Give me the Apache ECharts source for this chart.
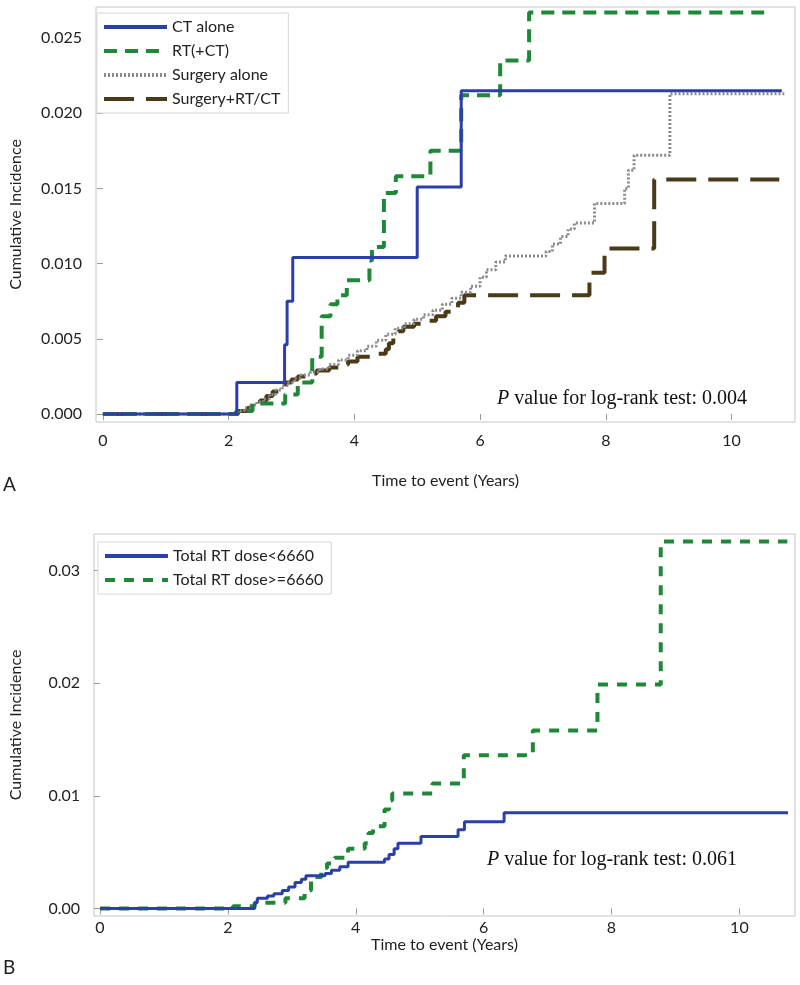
<!DOCTYPE html>
<html>
<head>
<meta charset="utf-8">
<script src="https://cdn.jsdelivr.net/npm/echarts@6/dist/echarts.min.js"></script>
<style>html,body{margin:0;padding:0;background:#fff}#c{width:800px;height:985px}</style>
</head>
<body>
<div id="c"></div>
<script>
// ---- Data ----
const xTicks = [0, 2, 4, 6, 8, 10];
const yTicksA = [0, 0.005, 0.010, 0.015, 0.020, 0.025];
const yTicksB = [0, 0.01, 0.02, 0.03];

const namesA = ['CT alone', 'RT(+CT)', 'Surgery alone', 'Surgery+RT/CT'];
const namesB = ['Total RT dose<6660', 'Total RT dose>=6660'];

// Panel A: [time (years), cumulative incidence]
const ctAlone = [[0,0],[2.13,0.0021],[2.89,0.0046],[2.93,0.0075],[3.02,0.0104],[5.0,0.0151],[5.7,0.0215],[10.8,0.0215]];
const rtCt = [[0,0],[2.12,0.0002],[2.38,0.0007],[2.9,0.0013],[3.1,0.0021],[3.33,0.0038],[3.48,0.0065],[3.62,0.0073],[3.73,0.0079],[3.88,0.0089],[4.24,0.0102],[4.28,0.0111],[4.47,0.0147],[4.66,0.0158],[5.21,0.0175],[5.70,0.0212],[6.32,0.0235],[6.78,0.0267],[10.52,0.0267]];
const surgeryAlone = [[0,0],[2.15,0.0002],[2.25,0.0004],[2.35,0.0006],[2.45,0.0008],[2.55,0.0010],[2.65,0.0013],[2.75,0.0016],[2.85,0.0019],[2.95,0.0021],[3.05,0.0024],[3.15,0.0026],[3.3,0.0028],[3.45,0.0030],[3.6,0.0033],[3.75,0.0036],[3.9,0.0039],[4.05,0.0042],[4.2,0.0045],[4.35,0.0049],[4.5,0.0053],[4.65,0.0057],[4.8,0.0060],[4.95,0.0063],[5.1,0.0066],[5.25,0.0069],[5.4,0.0073],[5.55,0.0077],[5.7,0.0081],[5.85,0.0085],[6.0,0.0091],[6.1,0.0096],[6.25,0.0101],[6.4,0.0105],[7.05,0.0108],[7.15,0.0113],[7.28,0.0118],[7.4,0.0123],[7.5,0.0127],[7.82,0.0140],[8.3,0.0150],[8.36,0.0162],[8.45,0.0172],[9.02,0.0213],[10.84,0.0213]];
const surgeryRtCt = [[0,0],[2.15,0.0002],[2.3,0.0004],[2.4,0.0007],[2.5,0.0009],[2.6,0.0012],[2.7,0.0015],[2.8,0.0018],[2.9,0.0021],[3.0,0.0023],[3.1,0.0025],[3.25,0.0027],[3.4,0.0029],[3.6,0.0031],[3.75,0.0033],[3.9,0.0035],[4.05,0.0038],[4.25,0.0040],[4.5,0.0043],[4.55,0.0047],[4.62,0.0051],[4.7,0.0055],[4.78,0.0058],[4.95,0.0060],[5.1,0.0062],[5.3,0.0065],[5.45,0.0068],[5.55,0.0071],[5.65,0.0074],[5.75,0.0079],[7.74,0.0094],[7.98,0.0110],[8.77,0.0156],[10.76,0.0156]];

// Panel B
const doseLow = [[0,0],[2.42,0.0005],[2.46,0.0009],[2.62,0.0011],[2.72,0.0013],[2.85,0.0016],[2.95,0.0019],[3.05,0.0023],[3.15,0.0026],[3.22,0.0029],[3.52,0.0031],[3.62,0.0034],[3.75,0.0037],[3.88,0.0041],[4.45,0.0044],[4.52,0.0048],[4.6,0.0053],[4.66,0.0058],[5.02,0.0064],[5.6,0.0070],[5.7,0.0077],[6.32,0.0085],[10.76,0.0085]];
const doseHigh = [[0,0],[2.08,0.0002],[2.42,0.0005],[2.9,0.0009],[3.2,0.0016],[3.3,0.0028],[3.46,0.0036],[3.55,0.0040],[3.67,0.0045],[3.88,0.0053],[4.14,0.0058],[4.2,0.0067],[4.27,0.0073],[4.45,0.0088],[4.52,0.0096],[4.57,0.0102],[5.2,0.0111],[5.69,0.0136],[6.77,0.0158],[7.78,0.0199],[8.77,0.0326],[10.75,0.0326]];

const pTextA = '0.004';
const pTextB = '0.061';

// ---- Styles ----
const FONT = "Lato, 'Open Sans', sans-serif";
const SERIF = "'Liberation Serif', 'DejaVu Serif', serif";
const BLUE = '#2b3fa8', GREEN = '#1f8838', GREY = '#8a8a8a', BROWN = '#4a3a17';
const frame = '#c4c4c4';

function xAxis(gi, min, max) {
  return {
    type: 'value', gridIndex: gi, min: min, max: max,
    name: 'Time to event (Years)', nameLocation: 'middle', nameGap: gi === 0 ? 51 : 19,
    nameTextStyle: { fontFamily: FONT, fontSize: 16, color: '#222' },
    splitLine: { show: false },
    axisLine: { show: false },
    axisTick: { show: true, length: 6, lineStyle: { color: '#999' }, customValues: xTicks },
    axisLabel: { fontFamily: FONT, fontSize: 16, color: '#222', margin: gi === 0 ? 11 : 4, customValues: xTicks, formatter: v => String(v) }
  };
}
function yAxis(gi, min, max, ticks, dec) {
  return {
    type: 'value', gridIndex: gi, min: min, max: max,
    name: 'Cumulative Incidence', nameLocation: 'middle', nameGap: dec === 3 ? 72 : 70,
    nameTextStyle: { fontFamily: FONT, fontSize: 16, color: '#222' },
    splitLine: { show: false },
    axisLine: { show: false },
    axisTick: { show: true, length: 6, lineStyle: { color: '#999' }, customValues: ticks },
    axisLabel: { fontFamily: FONT, fontSize: 16, color: '#222', margin: 14, customValues: ticks, formatter: v => v.toFixed(dec) }
  };
}
function line(name, data, color, width, type, xi) {
  return {
    name: name, type: 'line', step: 'end', data: data, xAxisIndex: xi, yAxisIndex: xi,
    symbol: 'none', showSymbol: false, animation: false,
    lineStyle: { color: color, width: width, type: type },
    itemStyle: { color: color }
  };
}
function legendBox(names, left, top) {
  return { data: names, left: left, top: top, orient: 'vertical', itemWidth: 63, itemHeight: 12, itemGap: 8,
    padding: [6, 8, 6, 5], borderColor: '#d6d6d6', borderWidth: 1, backgroundColor: '#fff',
    itemStyle: { opacity: 0 },
    lineStyle: { width: 4 },
    textStyle: { fontFamily: FONT, fontSize: 16, color: '#222' }, selectedMode: false };
}
function pText(val, left, top) {
  return { type: 'text', left: left, top: top, style: { text: '{i|P} value for log-rank test: ' + val,
    rich: { i: { fontStyle: 'italic', fontFamily: SERIF, fontSize: 20, fill: '#111' } },
    fontFamily: SERIF, fontSize: 20, fill: '#111' } };
}

const chart = echarts.init(document.getElementById('c'), null, { renderer: 'canvas' });
chart.setOption({
  backgroundColor: '#fff',
  animation: false,
  grid: [
    { left: 91, top: 7, width: 704, height: 415, show: true, borderColor: frame, borderWidth: 1, containLabel: false },
    { left: 92, top: 534, width: 703, height: 382, show: true, borderColor: frame, borderWidth: 1, containLabel: false }
  ],
  xAxis: [xAxis(0, -0.11, 11.01), xAxis(1, -0.094, 10.87)],
  yAxis: [yAxis(0, -0.00053, 0.02706, yTicksA, 3), yAxis(1, -0.00067, 0.03326, yTicksB, 2)],
  legend: [legendBox(namesA, 97, 13), legendBox(namesB, 98, 542)],
  series: [
    line(namesA[3], surgeryRtCt, BROWN, 4, [30, 12], 0),
    line(namesA[2], surgeryAlone, GREY, 3, [2, 2], 0),
    line(namesA[1], rtCt, GREEN, 4, [13, 8], 0),
    line(namesA[0], ctAlone, BLUE, 3, 'solid', 0),
    line(namesB[1], doseHigh, GREEN, 4, [10, 9], 1),
    line(namesB[0], doseLow, BLUE, 3, 'solid', 1)
  ],
  graphic: [
    pText(pTextA, 497, 389),
    pText(pTextB, 487, 850),
    { type: 'text', left: 3, top: 475, style: { text: 'A', fontFamily: FONT, fontSize: 19, fill: '#222' } },
    { type: 'text', left: 3, top: 958, style: { text: 'B', fontFamily: FONT, fontSize: 19, fill: '#222' } }
  ]
});
</script>
</body>
</html>
